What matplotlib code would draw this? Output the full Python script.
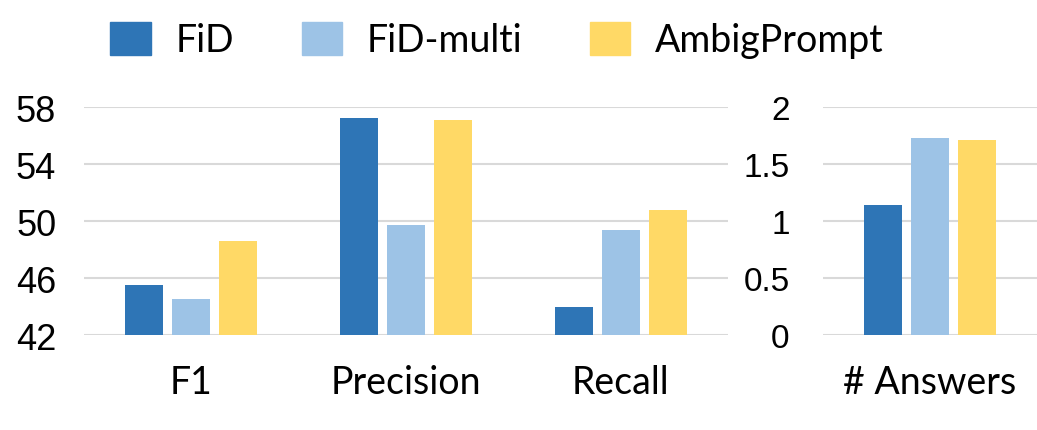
import matplotlib.pyplot as plt
from matplotlib.patches import Patch
import numpy as np

# dados
categorias = ["F1", "Precision", "Recall"]
fid = [45.5, 57.2, 44.0]
fid_multi = [44.5, 49.7, 49.4]
ambig = [48.6, 57.1, 50.8]

cat_direita = ["# Answers"]
fid_resp = [1.14]
fid_multi_resp = [1.73]
ambig_resp = [1.71]

series = ["FiD", "FiD-multi", "AmbigPrompt"]
cores = ["#2E75B6", "#9DC3E6", "#FFD966"]

ticks_esq = [42, 46, 50, 54, 58]
ticks_dir = [0, 0.5, 1, 1.5, 2]
rotulos_dir = ["0", "0.5", "1", "1.5", "2"]

fonte_txt = ["Lato", "DejaVu Sans"]
fonte_num = ["Liberation Sans Narrow", "Liberation Sans", "DejaVu Sans"]

fig = plt.figure(figsize=(10.37, 4.31), dpi=100)
ax1 = fig.add_axes([0.081, 0.2204, 0.621, 0.529])
ax2 = fig.add_axes([0.7936, 0.2204, 0.2064, 0.529])

largura = 0.177
passo = 0.219


def barras(ax, x, valores):
    for i, (vals, cor) in enumerate(zip(valores, cores)):
        ax.bar(x + (i - 1) * passo, vals, largura, color=cor, zorder=3)


x1 = np.arange(len(categorias))
barras(ax1, x1, [fid, fid_multi, ambig])
ax1.set_xlim(-0.5, 2.5)
ax1.set_ylim(42, 58)
ax1.set_yticks(ticks_esq)
ax1.set_yticklabels([str(t) for t in ticks_esq], family=fonte_num, fontsize=26)
ax1.set_xticks(x1)
ax1.set_xticklabels(categorias, family=fonte_txt, fontsize=27)

x2 = np.arange(len(cat_direita))
barras(ax2, x2, [fid_resp, fid_multi_resp, ambig_resp])
ax2.set_xlim(-0.5, 0.5)
ax2.set_ylim(0, 2)
ax2.set_yticks(ticks_dir)
ax2.set_yticklabels(rotulos_dir, family=["Liberation Sans", "DejaVu Sans"], fontsize=24)
ax2.set_xticks(x2)
ax2.set_xticklabels(cat_direita, family=fonte_txt, fontsize=27)

for ax in (ax1, ax2):
    for s in ax.spines.values():
        s.set_visible(False)
    ax.grid(True, axis="y", color="#D9D9D9", linewidth=1.5, zorder=0)
    ax.tick_params(axis="both", length=0)
    ax.tick_params(axis="x", pad=21)
    ax.set_axisbelow(True)
ax1.tick_params(axis="y", pad=20)
ax2.tick_params(axis="y", pad=24)

handles = [Patch(color=c, label=s) for c, s in zip(cores, series)]
fig.legend(handles=handles, loc="upper left", bbox_to_anchor=(0.074, 1.026),
           ncol=3, frameon=False, prop={"family": fonte_txt, "size": 27},
           handlelength=1.07, handleheight=1.0, handletextpad=0.67,
           columnspacing=1.8)

fig.savefig("out.png", dpi=100)
